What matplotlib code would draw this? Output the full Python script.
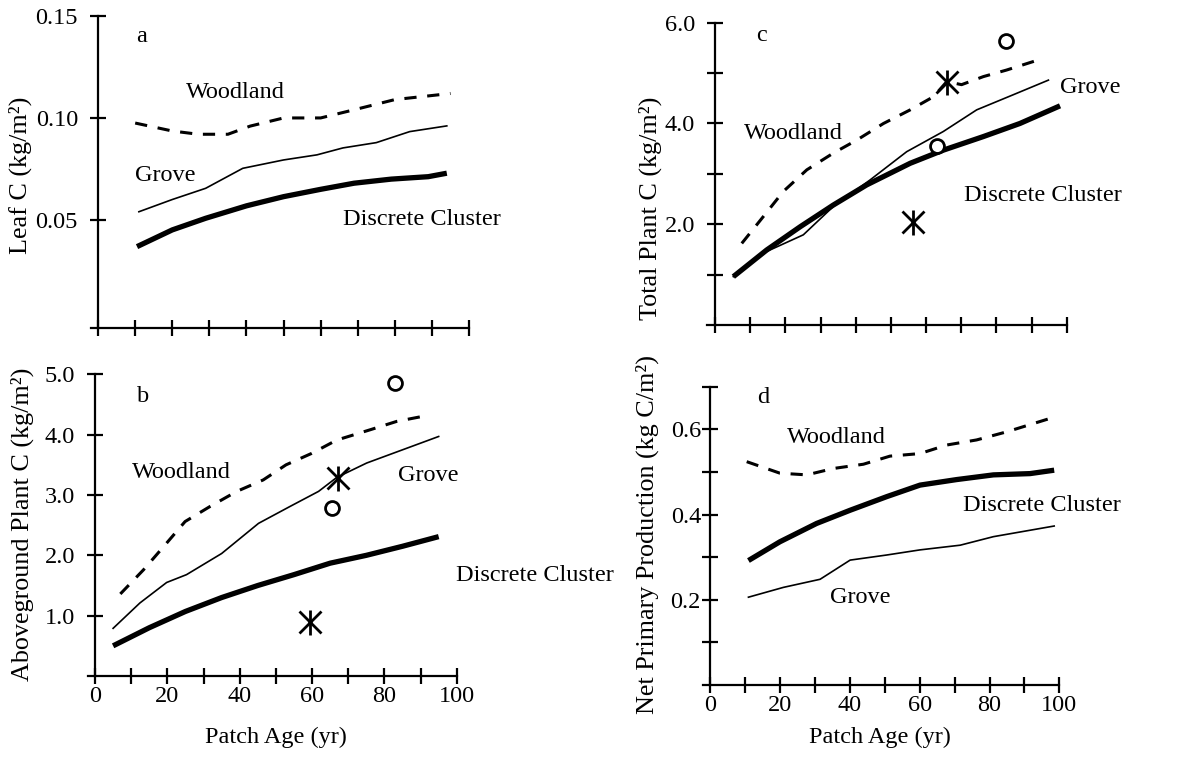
import matplotlib
matplotlib.use("Agg")
import matplotlib.pyplot as plt
from matplotlib.ticker import FixedLocator, NullFormatter

plt.rcParams['font.family'] = ['Liberation Serif', 'DejaVu Serif']

# panel a: leaf C
a_wood_x = [10, 20, 27, 35, 41, 50, 60, 69, 80, 95]
a_wood_y = [0.0975, 0.0936, 0.092, 0.092, 0.096, 0.100, 0.100, 0.104, 0.109, 0.112]
a_grove_x = [11, 20, 29, 39, 50, 59, 66, 75, 84, 94]
a_grove_y = [0.054, 0.060, 0.0655, 0.0753, 0.0794, 0.0819, 0.0853, 0.0879, 0.0933, 0.0961]
a_dc_x = [10.5, 20, 29, 40, 50, 60, 69, 79, 89, 94]
a_dc_y = [0.0369, 0.0451, 0.0508, 0.0569, 0.0614, 0.065, 0.068, 0.070, 0.0712, 0.0729]

# panel b: aboveground plant C
b_wood_x = [7, 13.4, 18.9, 24.9, 31.8, 39.2, 46.5, 52.8, 59.9, 66.8, 76, 83.4, 90.3]
b_wood_y = [1.36, 1.76, 2.14, 2.56, 2.81, 3.06, 3.25, 3.50, 3.69, 3.91, 4.08, 4.22, 4.30]
b_grove_x = [5, 12.4, 19.8, 25.3, 35, 45.2, 53.9, 61.8, 66.8, 75.1, 95]
b_grove_y = [0.79, 1.21, 1.55, 1.68, 2.03, 2.53, 2.81, 3.06, 3.29, 3.53, 3.97]
b_dc_x = [5, 15, 25, 35, 45, 55, 65, 75, 85, 95]
b_dc_y = [0.50, 0.80, 1.07, 1.30, 1.50, 1.68, 1.87, 2.00, 2.15, 2.31]
b_circ_x = [82.9, 65.4]
b_circ_y = [4.86, 2.78]
b_ast_x = [67.1, 59.3]
b_ast_y = [3.28, 0.90]

# panel c: total plant C
c_wood_x = [7.6, 13.7, 19.4, 26.1, 33.6, 40.3, 47.9, 55.5, 62.1, 65.9, 70.1, 76.3, 82.9, 91]
c_wood_y = [1.62, 2.15, 2.65, 3.08, 3.41, 3.67, 4.0, 4.27, 4.53, 4.83, 4.77, 4.93, 5.06, 5.24]
c_grove_x = [5.2, 14.7, 25.1, 33.6, 44.1, 54.5, 64.9, 74.4, 84.8, 94.8]
c_grove_y = [0.96, 1.46, 1.79, 2.35, 2.88, 3.44, 3.84, 4.27, 4.57, 4.86]
c_dc_x = [5.2, 14.7, 24.2, 33.6, 43.1, 55.5, 64.9, 76.3, 86.7, 98.1]
c_dc_y = [0.96, 1.49, 1.95, 2.38, 2.78, 3.21, 3.47, 3.74, 4.0, 4.35]
c_circ_x = [82.7, 63]
c_circ_y = [5.63, 3.56]
c_ast_x = [65.9, 56.4]
c_ast_y = [4.83, 2.05]

# panel d: net primary production
d_wood_x = [10.5, 20, 27.7, 35.3, 43.9, 51.5, 60.1, 67.7, 76.3, 84.9, 98.3]
d_wood_y = [0.524, 0.497, 0.493, 0.508, 0.518, 0.537, 0.543, 0.563, 0.575, 0.594, 0.628]
d_grove_x = [11, 21, 31.5, 40.1, 50.6, 60.1, 71.6, 81.1, 98.5]
d_grove_y = [0.206, 0.229, 0.248, 0.293, 0.305, 0.317, 0.328, 0.348, 0.373]
d_dc_x = [11, 20, 30.5, 40.1, 50.6, 60.1, 70.6, 81.1, 91.6, 98.5]
d_dc_y = [0.292, 0.336, 0.379, 0.410, 0.442, 0.469, 0.482, 0.493, 0.496, 0.504]

FS = 17.5
LFS = 18.8

fig = plt.figure(figsize=(11.96, 7.61), dpi=100)

def setup(ax, xlim, ylim, ymaj, ymin, ylabels, xlabels, ypad):
    ax.set_xlim(*xlim)
    ax.set_ylim(*ylim)
    ax.spines['top'].set_visible(False)
    ax.spines['right'].set_visible(False)
    ax.spines['left'].set_position(('data', 0))
    for s in ['left', 'bottom']:
        ax.spines[s].set_linewidth(1.6)
    ax.xaxis.set_major_locator(FixedLocator([0, 20, 40, 60, 80, 100]))
    ax.xaxis.set_minor_locator(FixedLocator([10, 30, 50, 70, 90]))
    ax.yaxis.set_major_locator(FixedLocator(ymaj))
    ax.yaxis.set_minor_locator(FixedLocator(ymin))
    ax.yaxis.set_minor_formatter(NullFormatter())
    ax.xaxis.set_minor_formatter(NullFormatter())
    ax.set_yticklabels(ylabels)
    if xlabels:
        ax.set_xticklabels(['0', '20', '40', '60', '80', '100'])
    else:
        ax.set_xticklabels([])
    ax.tick_params(which='both', direction='inout', length=11, width=1.6, labelsize=FS)
    ax.tick_params(axis='y', which='major', pad=ypad)
    ax.tick_params(axis='x', which='major', pad=2)
    ax.patch.set_alpha(0)

def curves(ax, wx, wy, gx, gy, dx, dy):
    ax.plot(wx, wy, color='black', lw=2.2, dashes=(4, 3.5), clip_on=False)
    ax.plot(gx, gy, color='black', lw=1.2, clip_on=False)
    ax.plot(dx, dy, color='black', lw=3.8, solid_capstyle='butt', clip_on=False)

def points(ax, cx, cy, sx, sy):
    ax.plot(cx, cy, 'o', mfc='white', mec='black', mew=2, ms=10, ls='none', clip_on=False)
    ax.plot(sx, sy, 'x', color='black', mew=2, ms=16, ls='none', clip_on=False)
    ax.plot(sx, sy, '|', color='black', mew=2, ms=18, ls='none', clip_on=False)

# a
ax_a = fig.add_axes([0.0758, 0.569, 0.3164, 0.410])
setup(ax_a, (-2, 100), (-0.003, 0.15), [0.05, 0.10, 0.15], [], ['0.05', '0.10', '0.15'], False, 9)
curves(ax_a, a_wood_x, a_wood_y, a_grove_x, a_grove_y, a_dc_x, a_dc_y)
ax_a.text(11.6, 0.1397, 'a', fontsize=FS, ha='center', va='center')
ax_a.text(36.9, 0.1123, 'Woodland', fontsize=FS, ha='center', va='center')
ax_a.text(18.1, 0.072, 'Grove', fontsize=FS, ha='center', va='center')
ax_a.text(87.3, 0.050, 'Discrete Cluster', fontsize=FS, ha='center', va='center')

# b
ax_b = fig.add_axes([0.0737, 0.1117, 0.3082, 0.3964])
setup(ax_b, (-1.9, 100), (0, 5), [1, 2, 3, 4, 5], [], ['1.0', '2.0', '3.0', '4.0', '5.0'], True, 9)
curves(ax_b, b_wood_x, b_wood_y, b_grove_x, b_grove_y, b_dc_x, b_dc_y)
points(ax_b, b_circ_x, b_circ_y, b_ast_x, b_ast_y)
ax_b.text(13.3, 4.63, 'b', fontsize=FS, ha='center', va='center')
ax_b.text(24, 3.37, 'Woodland', fontsize=FS, ha='center', va='center')
ax_b.text(92, 3.33, 'Grove', fontsize=FS, ha='center', va='center')
ax_b.text(121.6, 1.66, 'Discrete Cluster', fontsize=FS, ha='center', va='center')

# c
ax_c = fig.add_axes([0.5914, 0.5729, 0.3005, 0.3973])
setup(ax_c, (-2.2, 100), (0, 6), [2, 4, 6], [1, 3, 5], ['2.0', '4.0', '6.0'], False, 9)
curves(ax_c, c_wood_x, c_wood_y, c_grove_x, c_grove_y, c_dc_x, c_dc_y)
points(ax_c, c_circ_x, c_circ_y, c_ast_x, c_ast_y)
ax_c.text(13.1, 5.75, 'c', fontsize=FS, ha='center', va='center')
ax_c.text(22.2, 3.81, 'Woodland', fontsize=FS, ha='center', va='center')
ax_c.text(106.6, 4.72, 'Grove', fontsize=FS, ha='center', va='center')
ax_c.text(93.3, 2.58, 'Discrete Cluster', fontsize=FS, ha='center', va='center')

# d
ax_d = fig.add_axes([0.5881, 0.0999, 0.2977, 0.3920])
setup(ax_d, (-1.9, 100), (0, 0.7), [0.2, 0.4, 0.6], [0.1, 0.3, 0.5, 0.7], ['0.2', '0.4', '0.6'], True, 1)
curves(ax_d, d_wood_x, d_wood_y, d_grove_x, d_grove_y, d_dc_x, d_dc_y)
ax_d.text(15.2, 0.674, 'd', fontsize=FS, ha='center', va='center')
ax_d.text(36.1, 0.581, 'Woodland', fontsize=FS, ha='center', va='center')
ax_d.text(95, 0.422, 'Discrete Cluster', fontsize=FS, ha='center', va='center')
ax_d.text(42.9, 0.206, 'Grove', fontsize=FS, ha='center', va='center')

# axis titles, placed in pixels
W, H = 1196, 761
fig.text(276 / W, 1 - 737 / H, 'Patch Age (yr)', fontsize=FS, ha='center', va='center')
fig.text(880 / W, 1 - 737 / H, 'Patch Age (yr)', fontsize=FS, ha='center', va='center')
fig.text(20 / W, 1 - 175 / H, 'Leaf C (kg/m²)', rotation=90, fontsize=LFS, ha='center', va='center')
fig.text(22 / W, 1 - 524 / H, 'Aboveground Plant C (kg/m²)', rotation=90, fontsize=LFS, ha='center', va='center')
fig.text(650 / W, 1 - 208 / H, 'Total Plant C (kg/m²)', rotation=90, fontsize=LFS, ha='center', va='center')
fig.text(647 / W, 1 - 534 / H, 'Net Primary Production (kg C/m²)', rotation=90, fontsize=LFS, ha='center', va='center')

fig.savefig('out.png', dpi=100)
